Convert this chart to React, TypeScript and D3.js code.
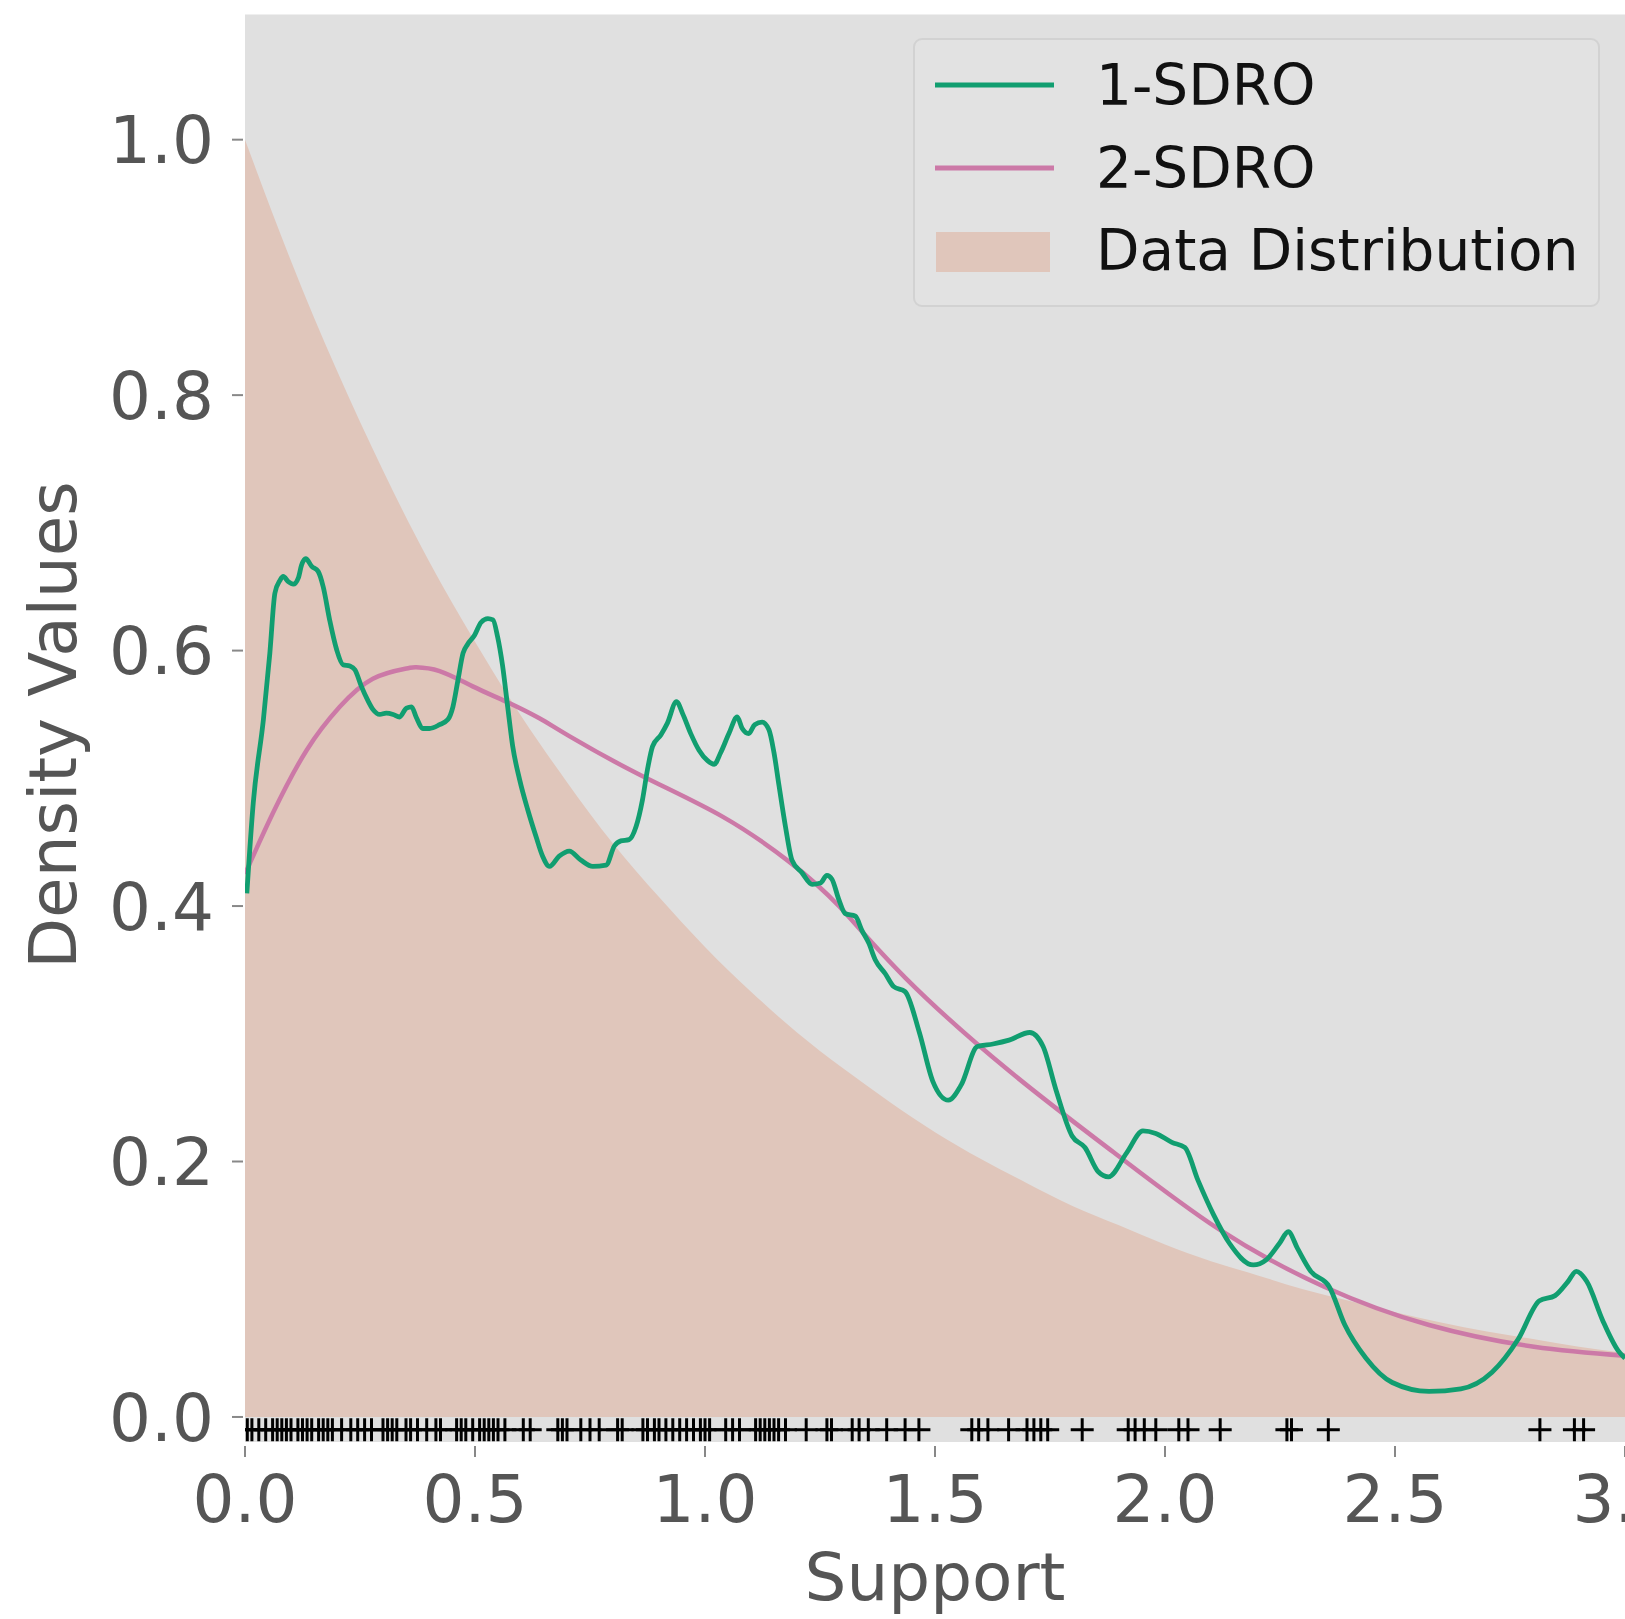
import React from "react";
import * as d3 from "d3";

// ---- data ----
const xTicks = [0, 0.5, 1.0, 1.5, 2.0, 2.5, 3.0];
const yTicks = [0, 0.2, 0.4, 0.6, 0.8, 1.0];

// Data distribution (shaded density)
const distX = [0, 0.1, 0.2, 0.3, 0.4, 0.5, 0.6, 0.7, 0.8, 0.9, 1.0, 1.1, 1.2, 1.3, 1.4, 1.5, 1.6, 1.7, 1.8, 1.9, 2.0, 2.1, 2.2, 2.3, 2.4, 2.5, 2.6, 2.7, 2.8, 2.9, 3.0];
const distY = [1.0, 0.905, 0.819, 0.741, 0.67, 0.607, 0.549, 0.497, 0.449, 0.407, 0.368, 0.333, 0.301, 0.273, 0.247, 0.223, 0.202, 0.183, 0.165, 0.15, 0.135, 0.122, 0.111, 0.1, 0.091, 0.082, 0.074, 0.067, 0.061, 0.055, 0.05];

// 1-SDRO
const sdro1X = [0.004, 0.018, 0.04, 0.054, 0.065, 0.076, 0.083, 0.094, 0.105, 0.116, 0.123, 0.132, 0.145, 0.159, 0.17, 0.184, 0.199, 0.213, 0.228, 0.239, 0.253, 0.267, 0.278, 0.293, 0.307, 0.322, 0.336, 0.351, 0.362, 0.372, 0.387, 0.401, 0.423, 0.441, 0.452, 0.463, 0.474, 0.484, 0.499, 0.513, 0.528, 0.539, 0.549, 0.56, 0.571, 0.582, 0.597, 0.615, 0.633, 0.647, 0.662, 0.683, 0.705, 0.73, 0.756, 0.785, 0.803, 0.817, 0.835, 0.85, 0.864, 0.875, 0.886, 0.904, 0.918, 0.938, 0.951, 0.969, 0.987, 1.005, 1.02, 1.034, 1.052, 1.07, 1.081, 1.095, 1.108, 1.124, 1.139, 1.15, 1.161, 1.175, 1.189, 1.211, 1.233, 1.251, 1.265, 1.276, 1.291, 1.305, 1.327, 1.341, 1.356, 1.37, 1.392, 1.41, 1.435, 1.466, 1.495, 1.529, 1.557, 1.592, 1.626, 1.661, 1.706, 1.735, 1.763, 1.798, 1.826, 1.855, 1.877, 1.917, 1.952, 1.98, 2.015, 2.043, 2.072, 2.106, 2.14, 2.192, 2.22, 2.249, 2.268, 2.288, 2.317, 2.357, 2.391, 2.437, 2.494, 2.574, 2.643, 2.711, 2.768, 2.814, 2.848, 2.876, 2.894, 2.917, 2.951, 2.985, 3.0];
const sdro1Y = [0.41, 0.481, 0.546, 0.598, 0.645, 0.655, 0.658, 0.654, 0.652, 0.657, 0.667, 0.672, 0.666, 0.662, 0.65, 0.624, 0.601, 0.589, 0.588, 0.585, 0.572, 0.561, 0.554, 0.55, 0.551, 0.55, 0.548, 0.555, 0.556, 0.548, 0.539, 0.539, 0.542, 0.546, 0.556, 0.577, 0.598, 0.605, 0.612, 0.622, 0.625, 0.624, 0.611, 0.588, 0.556, 0.525, 0.499, 0.475, 0.454, 0.439, 0.431, 0.439, 0.443, 0.436, 0.431, 0.432, 0.447, 0.451, 0.452, 0.462, 0.483, 0.507, 0.525, 0.534, 0.543, 0.56, 0.551, 0.535, 0.522, 0.514, 0.511, 0.52, 0.535, 0.548, 0.539, 0.535, 0.542, 0.544, 0.538, 0.52, 0.494, 0.462, 0.436, 0.426, 0.417, 0.418, 0.424, 0.421, 0.405, 0.394, 0.392, 0.381, 0.371, 0.358, 0.347, 0.337, 0.333, 0.301, 0.263, 0.248, 0.26, 0.29, 0.292, 0.295, 0.301, 0.29, 0.256, 0.22, 0.211, 0.192, 0.188, 0.207, 0.224, 0.222, 0.215, 0.211, 0.185, 0.158, 0.136, 0.119, 0.123, 0.136, 0.145, 0.132, 0.114, 0.102, 0.072, 0.046, 0.027, 0.02, 0.022, 0.035, 0.061, 0.091, 0.095, 0.106, 0.114, 0.106, 0.076, 0.052, 0.046];

// 2-SDRO
const sdro2X = [0.0, 0.061, 0.134, 0.206, 0.278, 0.351, 0.372, 0.423, 0.495, 0.568, 0.64, 0.705, 0.857, 1.038, 1.182, 1.291, 1.435, 1.661, 1.889, 2.117, 2.346, 2.574, 2.802, 3.0];
const sdro2Y = [0.425, 0.473, 0.522, 0.556, 0.578, 0.586, 0.587, 0.584, 0.572, 0.56, 0.547, 0.533, 0.503, 0.47, 0.435, 0.4, 0.344, 0.271, 0.207, 0.147, 0.102, 0.072, 0.055, 0.048];

// samples (rug)
const samples = [0.005, 0.015, 0.03, 0.045, 0.06, 0.07, 0.08, 0.09, 0.1, 0.115, 0.125, 0.135, 0.145, 0.16, 0.17, 0.18, 0.19, 0.21, 0.23, 0.245, 0.26, 0.275, 0.3, 0.31, 0.32, 0.33, 0.35, 0.36, 0.375, 0.395, 0.415, 0.425, 0.46, 0.47, 0.48, 0.495, 0.51, 0.52, 0.53, 0.54, 0.55, 0.565, 0.605, 0.62, 0.68, 0.69, 0.7, 0.73, 0.75, 0.77, 0.81, 0.82, 0.865, 0.875, 0.89, 0.9, 0.915, 0.93, 0.945, 0.96, 0.975, 0.99, 1.0, 1.01, 1.045, 1.06, 1.075, 1.11, 1.12, 1.13, 1.14, 1.15, 1.16, 1.175, 1.22, 1.265, 1.275, 1.32, 1.335, 1.355, 1.395, 1.435, 1.465, 1.58, 1.595, 1.615, 1.66, 1.7, 1.715, 1.73, 1.745, 1.82, 1.92, 1.935, 1.955, 1.98, 2.03, 2.05, 2.12, 2.265, 2.275, 2.355, 2.815, 2.89, 2.91];
const rugY = -0.01;

const seriesNames = ["1-SDRO", "2-SDRO", "Data Distribution"];

export default function App() {
  const W = 1625, H = 1619;
  const left = 245, right = 1625, top = 14.5, bottom = 1442;
  const x = d3.scaleLinear().domain([0, 3]).range([left, right]);
  const y = d3.scaleLinear().domain([-0.0196, 1.098]).range([bottom, top]);

  const area = d3.area<number>().x((_, i) => x(distX[i])).y0(() => y(0)).y1((_, i) => y(distY[i])).curve(d3.curveNatural);
  const line1 = d3.line<number>().x((_, i) => x(sdro1X[i])).y((d) => y(d)).curve(d3.curveMonotoneX);
  const line2 = d3.line<number>().x((_, i) => x(sdro2X[i])).y((d) => y(d)).curve(d3.curveNatural);

  const green = "#119e70";
  const pink = "#cc79a7";
  const fillC = "#e0c6bb";
  const bg = "#e0e0e0";
  const tickC = "#555555";
  const font = "DejaVu Sans, sans-serif";

  return (
    <svg width={W} height={H} style={{ position: "absolute", left: 0, top: 0, background: "#ffffff" }} fontFamily={font}>
      <defs>
        <clipPath id="plotclip">
          <rect x={left} y={top} width={right - left} height={bottom - top} />
        </clipPath>
      </defs>
      <rect x={left} y={top} width={right - left} height={bottom - top} fill={bg} />
      <g clipPath="url(#plotclip)">
        <path d={area(distY) || ""} fill={fillC} />
        <path d={line2(sdro2Y) || ""} fill="none" stroke={pink} strokeWidth={4.5} />
        <path d={line1(sdro1Y) || ""} fill="none" stroke={green} strokeWidth={4.8} strokeLinejoin="round" />
        {samples.map((s, i) => (
          <g key={i} stroke="#000" strokeWidth={3}>
            <line x1={x(s) - 11.5} x2={x(s) + 11.5} y1={y(rugY)} y2={y(rugY)} />
            <line x1={x(s)} x2={x(s)} y1={y(rugY) - 11.5} y2={y(rugY) + 11.5} />
          </g>
        ))}
      </g>
      {/* y axis ticks */}
      {yTicks.map((t) => (
        <g key={"y" + t}>
          <line x1={left - 13} x2={left - 2} y1={y(t)} y2={y(t)} stroke="#888" strokeWidth={2} />
          <text x={left - 31} y={y(t)} dy="0.36em" textAnchor="end" fontSize={66} fill={tickC}>{t.toFixed(1)}</text>
        </g>
      ))}
      {/* x axis ticks */}
      {xTicks.map((t) => (
        <g key={"x" + t}>
          <line x1={x(t)} x2={x(t)} y1={bottom + 4} y2={bottom + 15} stroke="#888" strokeWidth={2} />
          <text x={x(t)} y={1522} textAnchor="middle" fontSize={66} fill={tickC}>{t.toFixed(1)}</text>
        </g>
      ))}
      <text x={(left + right) / 2} y={1600} textAnchor="middle" fontSize={66} fill={tickC}>Support</text>
      <text transform={`translate(76, 725) rotate(-90)`} textAnchor="middle" fontSize={66} fill={tickC}>Density Values</text>

      {/* legend */}
      <g>
        <rect x={914} y={39} width={685} height={267} rx={8} fill="#e2e2e2" stroke="#d2d2d2" strokeWidth={2} />
        <line x1={935} x2={1054} y1={85} y2={85} stroke={green} strokeWidth={5} />
        <text x={1096} y={105} fontSize={56.5} fill="#111">{seriesNames[0]}</text>
        <line x1={935} x2={1054} y1={168} y2={168} stroke={pink} strokeWidth={5} />
        <text x={1096} y={188} fontSize={56.5} fill="#111">{seriesNames[1]}</text>
        <rect x={936} y={232} width={114} height={40} fill={fillC} />
        <text x={1096} y={270} fontSize={56.5} fill="#111">{seriesNames[2]}</text>
      </g>
    </svg>
  );
}
